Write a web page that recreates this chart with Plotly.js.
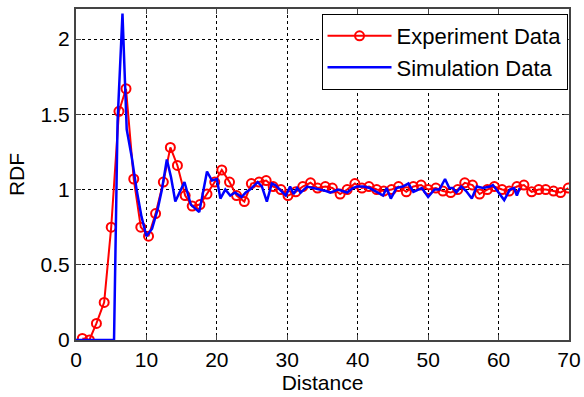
<!DOCTYPE html>
<html>
<head>
<meta charset="utf-8">
<script src="https://cdn.plot.ly/plotly-3.0.1.min.js"></script>
<style>html,body{margin:0;padding:0;background:#fff;}#chart{width:584px;height:397px;}</style>
</head>
<body>
<div id="chart"></div>
<script>
const expX = [0.9,1.9,2.9,4.0,5.0,6.1,7.1,8.2,9.2,10.3,11.3,12.4,13.4,14.4,15.5,16.5,17.6,18.6,19.7,20.7,
  21.8,22.8,23.9,24.9,26.0,27.0,28.0,29.1,30.1,31.2,32.2,33.3,34.3,35.4,36.4,37.5,38.5,39.6,40.6,41.6,
  42.7,43.7,44.8,45.8,46.9,47.9,49.0,50.0,51.1,52.1,53.2,54.2,55.2,56.3,57.3,58.4,59.4,60.5,61.5,62.6,
  63.6,64.7,65.7,66.7,67.8,68.8,69.9];
const expY = [0.01,0.0,0.11,0.25,0.75,1.52,1.67,1.07,0.75,0.69,0.84,1.05,1.28,1.16,0.96,0.89,0.90,0.97,1.05,1.13,
  1.05,0.96,0.92,1.04,1.05,1.06,1.02,1.0,0.96,0.985,1.02,1.045,1.01,1.02,1.01,0.97,1.0,1.04,1.01,1.02,
  1.0,0.99,1.0,1.02,0.985,1.02,1.03,1.0,1.01,0.99,0.98,1.0,1.045,1.03,0.97,1.0,1.02,1.0,0.99,1.02,
  1.03,0.985,1.0,1.0,0.99,0.98,1.01];
const simX = [0,5.4,5.9,6.6,7.2,7.9,8.6,9.3,10.0,10.8,11.6,12.2,12.9,13.5,14.1,14.8,15.4,16.3,17.5,18.6,
  19.3,20.0,20.5,21.2,21.9,22.6,23.5,24.1,24.7,25.8,26.4,27.1,27.8,28.3,29.0,29.8,30.4,30.9,31.4,31.9,
  32.8,33.8,34.8,35.5,36.1,37.2,38.5,39.3,39.9,40.8,41.7,42.7,43.6,44.1,44.7,45.5,46.4,47.2,47.9,49.1,
  50.0,50.9,51.6,52.4,53.0,53.5,54.0,54.7,55.4,56.2,56.9,57.8,58.8,59.2,59.9,60.8,61.6,62.2,62.6,63.0];
const simY = [0,0,1.45,2.17,1.4,1.22,1.0,0.82,0.69,0.74,0.87,1.0,1.2,1.08,0.92,0.99,1.05,0.9,0.85,1.12,
  1.06,1.07,0.94,1.0,0.96,0.98,0.95,0.98,1.0,1.05,1.02,0.92,1.04,1.03,1.0,0.96,1.02,0.97,1.01,0.98,
  1.02,1.01,1.0,0.99,0.98,1.0,0.98,1.01,1.02,1.02,1.01,0.985,0.96,1.01,0.94,1.01,1.02,1.04,0.985,1.01,
  0.95,1.0,1.0,1.07,1.01,1.01,0.98,1.02,0.99,0.94,1.02,1.01,1.02,1.03,0.985,0.93,1.0,1.01,0.96,1.01];
const xTicks = [0,10,20,30,40,50,60,70];
const yTicks = [0,0.5,1,1.5,2];
const yTickText = ['0','0.5','1','1.5','2'];

const font = 'Arial, "Liberation Sans", sans-serif';
const fs = 21;
const traces = [
  {x: expX, y: expY, name: 'Experiment Data', type: 'scatter', mode: 'lines+markers',
   line: {color: '#ff0000', width: 2},
   marker: {symbol: 'circle-open', size: 9, color: '#ff0000', line: {width: 2, color: '#ff0000'}}},
  {x: simX, y: simY, name: 'Simulation Data', type: 'scatter', mode: 'lines',
   line: {color: '#0000ff', width: 2.5}}
];
const axisCommon = {
  showline: true, linecolor: '#444', linewidth: 2, mirror: 'ticks',
  ticks: 'inside', ticklen: 5, tickcolor: '#444',
  showgrid: true, gridcolor: '#000', griddash: '3px,3px', gridwidth: 1,
  zeroline: false, tickfont: {family: font, size: fs, color: '#000'}
};
const layout = {
  width: 584, height: 397,
  margin: {l: 76, r: 15, t: 9, b: 57},
  paper_bgcolor: '#fff', plot_bgcolor: '#fff',
  showlegend: true,
  legend: {x: 0.997, y: 0.985, xanchor: 'right', yanchor: 'top',
    bgcolor: '#fff', bordercolor: '#000', borderwidth: 1,
    font: {family: font, size: 22, color: '#000'}, itemwidth: 64, tracegroupgap: 0},
  xaxis: Object.assign({}, axisCommon, {range: [0, 70], tickvals: xTicks, ticklabelstandoff: 0,
    title: {text: 'Distance', font: {family: font, size: fs, color: '#000'}, standoff: 2}}),
  yaxis: Object.assign({}, axisCommon, {range: [0, 2.2], tickvals: yTicks, ticktext: yTickText,
    title: {text: 'RDF', font: {family: font, size: fs, color: '#000'}, standoff: 10}})
};
Plotly.newPlot('chart', traces, layout, {displayModeBar: false, staticPlot: true});
</script>
</body>
</html>
